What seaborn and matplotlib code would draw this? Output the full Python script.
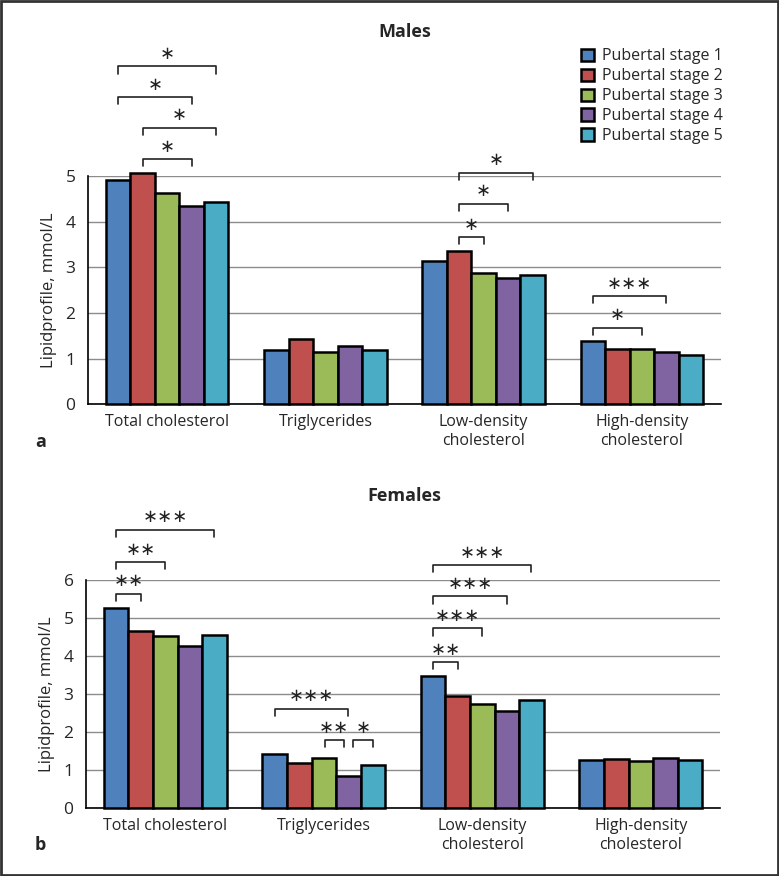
import matplotlib
matplotlib.use("Agg")
import matplotlib.pyplot as plt
import seaborn as sns
import pandas as pd
from matplotlib.patches import Rectangle

categories = ["Total cholesterol", "Triglycerides", "Low-density\ncholesterol", "High-density\ncholesterol"]
stages = ["Pubertal stage 1", "Pubertal stage 2", "Pubertal stage 3", "Pubertal stage 4", "Pubertal stage 5"]
colors = ["#4F81BD", "#C0504D", "#9BBB59", "#8064A2", "#4BACC6"]

males_stage1 = [4.92, 1.18, 3.14, 1.38]
males_stage2 = [5.06, 1.44, 3.35, 1.22]
males_stage3 = [4.62, 1.14, 2.88, 1.22]
males_stage4 = [4.34, 1.28, 2.76, 1.14]
males_stage5 = [4.43, 1.18, 2.83, 1.07]

females_stage1 = [5.26, 1.43, 3.47, 1.27]
females_stage2 = [4.67, 1.18, 2.94, 1.30]
females_stage3 = [4.53, 1.32, 2.74, 1.25]
females_stage4 = [4.26, 0.86, 2.55, 1.33]
females_stage5 = [4.56, 1.13, 2.85, 1.27]

# significance brackets: (category index, stage a, stage b, label)
males_sig = [(0, 1, 3, "*"), (0, 1, 4, "*"), (0, 0, 3, "*"), (0, 0, 4, "*"),
             (2, 1, 2, "*"), (2, 1, 3, "*"), (2, 1, 4, "*"),
             (3, 0, 2, "*"), (3, 0, 3, "***")]
females_sig = [(0, 0, 1, "**"), (0, 0, 2, "**"), (0, 0, 4, "***"),
               (1, 0, 3, "***"), (1, 2, 3, "**"), (1, 3, 4, "*"),
               (2, 0, 1, "**"), (2, 0, 2, "***"), (2, 0, 3, "***"), (2, 0, 4, "***")]
males_sig_y = [5.37, 6.06, 6.73, 7.40, 3.66, 4.39, 5.07, 1.68, 2.37]
females_sig_y = [5.64, 6.47, 7.32, 2.61, 1.79, 1.79, 3.84, 4.73, 5.57, 6.39]


def long_df(series):
    rows = []
    for s, vals in zip(stages, series):
        for c, v in zip(categories, vals):
            rows.append({"category": c, "stage": s, "value": v})
    return pd.DataFrame(rows)


sns.set_theme(style="white")
plt.rcParams['font.family'] = ['Open Sans', 'DejaVu Sans']

fig = plt.figure(figsize=(7.79, 8.76), dpi=100)
ax1 = fig.add_axes([0.113, 0.5385, 0.8125, 0.2606])
ax2 = fig.add_axes([0.1104, 0.0773, 0.814, 0.2606])


def draw(ax, series, ymax, sig, sig_y, tick_h, title, title_y):
    df = long_df(series)
    sns.barplot(data=df, x="category", y="value", hue="stage", palette=colors,
                saturation=1, edgecolor="black", linewidth=1.8, width=0.775, ax=ax,
                legend=(ax is ax1), zorder=3)
    for p in ax.patches:
        p.set_clip_on(False)
    ax.set_xlim(-0.5, 3.5)
    ax.set_ylim(0, ymax)
    ax.set_yticks(range(0, ymax + 1))
    ax.grid(axis="y", color="#8c8c8c", linewidth=1.0, zorder=0)
    ax.set_axisbelow(True)
    for sp in ["top", "right"]:
        ax.spines[sp].set_visible(False)
    for sp in ["left", "bottom"]:
        ax.spines[sp].set_color("black")
        ax.spines[sp].set_linewidth(1.2)
    ax.set_xlabel("")
    ax.set_ylabel("Lipidprofile, mmol/L", fontsize=12, labelpad=6)
    ax.set_xticks(range(4))
    ax.set_xticklabels(categories, fontsize=11.5, linespacing=1.25)
    ax.tick_params(axis="x", which="major", length=0, pad=7)
    ax.set_xticks([-0.5, 0.5, 1.5, 2.5, 3.5], minor=True)
    ax.tick_params(axis="x", which="minor", length=7, width=1.2, color="black", direction="out")
    ax.tick_params(axis="y", length=6, width=1.0, color="black", labelsize=12.5, pad=3)
    # bar centers from seaborn containers
    centers = []
    for cont in ax.containers:
        centers.append([p.get_x() + p.get_width() / 2 for p in cont.patches])
    for (ci, a, b, lab), y in zip(sig, sig_y):
        x1 = centers[a][ci]
        x2 = centers[b][ci]
        # small shrink for adjacent brackets sharing a bar
        if lab in ("**",) and title == "Females" and ci == 1:
            x1 += 0.005; x2 -= 0.03
        if lab == "*" and title == "Females" and ci == 1:
            x1 += 0.03
        ax.plot([x1, x1, x2, x2], [y - tick_h, y, y, y - tick_h], color="#222222",
                linewidth=1.2, clip_on=False, zorder=5)
        ax.annotate(lab.replace("*", "\u2217"), xy=((x1 + x2) / 2, y), xytext=(0, 9),
                    textcoords="offset points", ha="center", va="center",
                    fontsize=13, family="DejaVu Sans", color="#222222",
                    annotation_clip=False)
    fig.text(0.5195, title_y, title, ha="center", va="center", fontsize=13, fontweight="bold")


draw(ax1, [males_stage1, males_stage2, males_stage3, males_stage4, males_stage5],
     5, males_sig, males_sig_y, 0.16, "Males", 0.9635)
draw(ax2, [females_stage1, females_stage2, females_stage3, females_stage4, females_stage5],
     6, females_sig, females_sig_y, 0.19, "Females", 0.434)

leg = ax1.get_legend()
if leg is not None:
    leg.remove()
handles = [Rectangle((0, 0), 1, 1, facecolor=c, edgecolor="black", linewidth=1.8) for c in colors]
fig.legend(handles, stages, loc="upper left", bbox_to_anchor=(0.746, 0.945),
           frameon=False, fontsize=11.5, handlelength=0.8, handleheight=0.8,
           handletextpad=0.5, labelspacing=0.25, borderaxespad=0, borderpad=0)

fig.text(0.052, 0.496, "a", ha="center", va="center", fontsize=13, fontweight="bold")
fig.text(0.052, 0.035, "b", ha="center", va="center", fontsize=13, fontweight="bold")

fig.patches.append(Rectangle((0.001, 0.001), 0.998, 0.998, transform=fig.transFigure,
                             fill=False, edgecolor="#333333", linewidth=2.0))

fig.savefig("out.png", dpi=100)
